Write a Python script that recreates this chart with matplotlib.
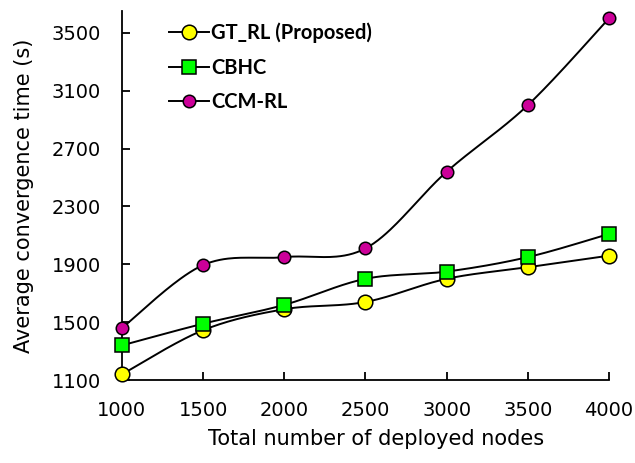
import matplotlib
matplotlib.use("Agg")
import matplotlib.pyplot as plt
import numpy as np

# ── data ────────────────────────────────────────────────────────────────────
nodes = [1000, 1500, 2000, 2500, 3000, 3500, 4000]
gt_rl = [1140, 1445, 1590, 1640, 1800, 1880, 1960]
cbhc = [1340, 1490, 1620, 1800, 1850, 1950, 2110]
ccm_rl = [1460, 1895, 1950, 2010, 2540, 3000, 3600]
y_ticks = [1100, 1500, 1900, 2300, 2700, 3100, 3500]


def smooth(xs, ys, n=40):
    """Spreadsheet-style smoothed line: cubic Bezier segments, Catmull-Rom tangents."""
    p = np.column_stack([xs, ys]).astype(float)
    pts = [p[0]]
    t = np.linspace(0, 1, n)[1:, None]
    for i in range(len(p) - 1):
        p0 = p[i - 1] if i > 0 else p[i]
        p3 = p[i + 2] if i + 2 < len(p) else p[i + 1]
        c1 = p[i] + (p[i + 1] - p0) / 6
        c2 = p[i + 1] - (p3 - p[i]) / 6
        seg = ((1 - t) ** 3 * p[i] + 3 * (1 - t) ** 2 * t * c1
               + 3 * (1 - t) * t ** 2 * c2 + t ** 3 * p[i + 1])
        pts.extend(seg)
    pts = np.array(pts)
    return pts[:, 0], pts[:, 1]


fig = plt.figure(figsize=(6.35, 4.63), dpi=100)
ax = fig.add_axes([0.192, 0.179, 0.767, 0.797])

series = [
    ("GT_RL (Proposed)", gt_rl, "o", "#FFFF00", 10.5),
    ("CBHC", cbhc, "s", "#00FF00", 9.5),
    ("CCM-RL", ccm_rl, "o", "#CC0099", 9.0),
]

handles = []
for i, (label, vals, mk, col, ms) in enumerate(series):
    sx, sy = smooth(nodes, vals)
    ax.plot(sx, sy, color="black", lw=1.4, zorder=2 + 2 * i, clip_on=False)
    ax.plot(nodes, vals, ls="none", marker=mk, ms=ms, mfc=col, mec="black",
            mew=1.1, zorder=3 + 2 * i, clip_on=False)
    h, = ax.plot([], [], color="black", lw=1.4, marker=mk, ms=ms, mfc=col,
                 mec="black", mew=1.1, label=label)
    handles.append(h)

ax.set_xlim(1000, 4000)
ax.set_ylim(1100, 3650)
ax.set_xticks(nodes)
ax.set_yticks(y_ticks)

for side in ("top", "right"):
    ax.spines[side].set_visible(False)
for side in ("left", "bottom"):
    ax.spines[side].set_linewidth(1.3)

ax.tick_params(direction="in", length=6, width=1.3, labelsize=14, pad=15)
ax.set_xlabel("Total number of deployed nodes", fontsize=15)
ax.xaxis.set_label_coords(0.522, -0.133)
ax.set_ylabel("Average convergence time (s)", fontsize=15, labelpad=13)

ax.legend(handles=handles, loc="upper left", bbox_to_anchor=(0.237, 0.99),
          bbox_transform=fig.transFigure, frameon=False, handlelength=2.0,
          handletextpad=0.1, labelspacing=0.72,
          prop={"family": ["Lato", "DejaVu Sans"], "weight": "bold", "size": 14.5})

fig.savefig("out.png", dpi=100)
